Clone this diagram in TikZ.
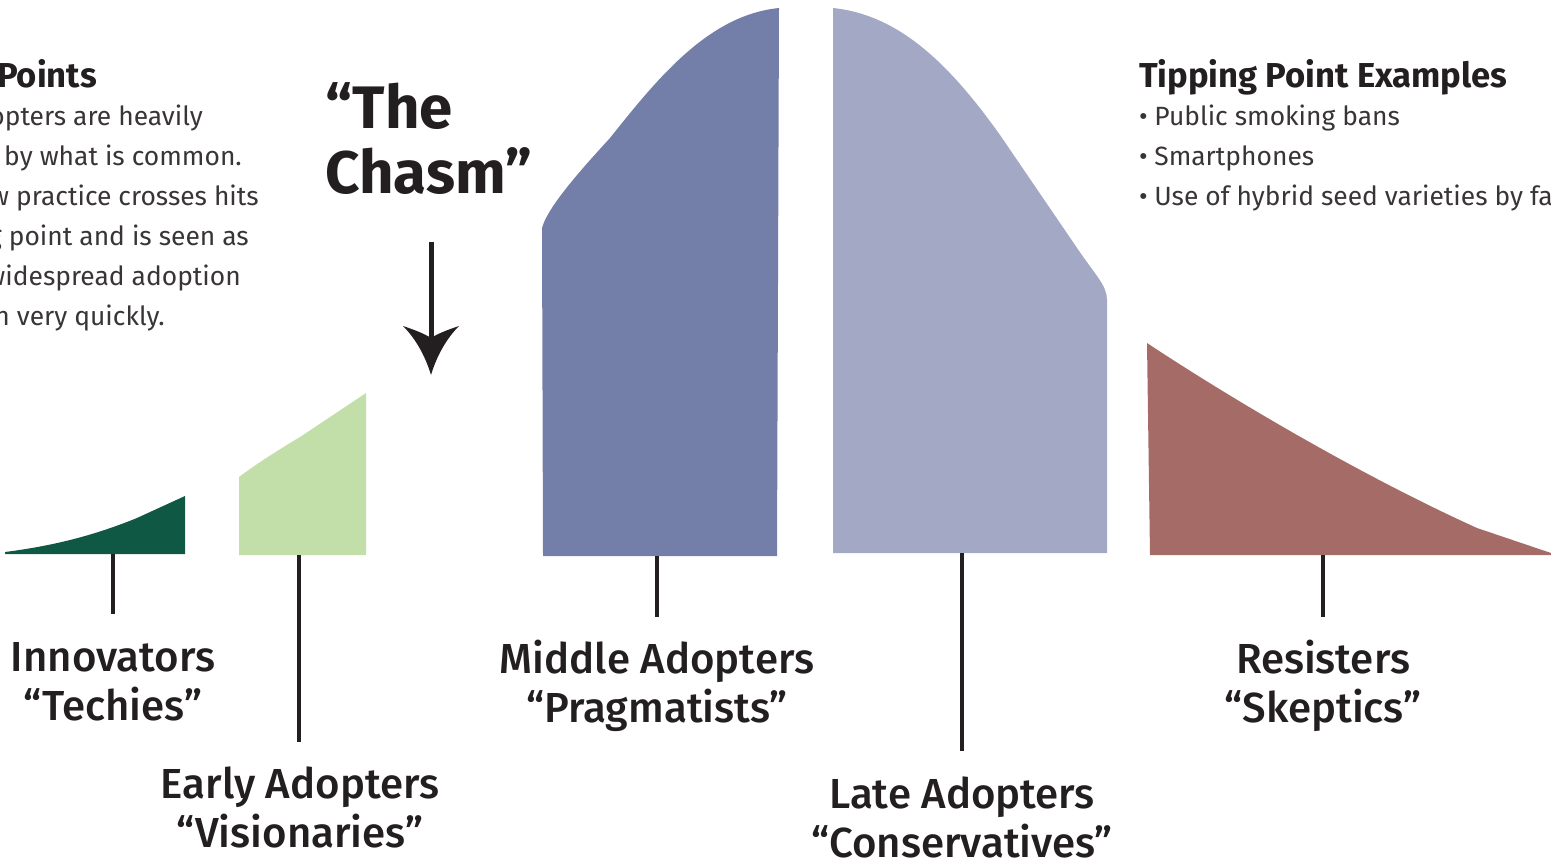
\documentclass[tikz,border=0pt]{standalone}
\usepackage{fontspec}
\setmainfont{Fira Sans}
\IfFontExistsTF{Fira Sans Medium}{\newfontfamily\labfont{Fira Sans Medium}}{\newcommand\labfont{\bfseries}}
\definecolor{inkc}{HTML}{231F20}
\definecolor{innc}{HTML}{0F5843}
\definecolor{earc}{HTML}{C2DEA9}
\definecolor{midc}{HTML}{737FA8}
\definecolor{latc}{HTML}{A3A8C5}
\definecolor{resc}{HTML}{A56B67}
\tikzset{
  tick/.style={draw=inkc, line width=4pt},
  lab/.style={font=\labfont\fontsize{42}{49}\selectfont, text=inkc, align=center, inner sep=0pt, anchor=base},
  body/.style={font=\fontsize{26.4}{40}\selectfont, text=inkc!90, inner sep=0pt},
  head/.style={font=\bfseries\fontsize{34.6}{40}\selectfont, text=inkc, inner sep=0pt},
  chasm/.style={font=\bfseries\fontsize{60}{65}\selectfont, text=inkc, inner sep=0pt, anchor=base west},
}
\begin{document}
\begin{tikzpicture}[x=1pt,y=-1pt]
\useasboundingbox (0,0) rectangle (1551,863);
\clip (0,0) rectangle (1551,863);

% curve segments
\fill[innc] (5,552) .. controls (60,545) and (100,533) .. (137,518) -- (185,496) -- (185,554) -- (5,554) -- cycle;
\fill[earc] (239,555) -- (239,477) .. controls (255,465) and (275,452) .. (300,437) -- (366,393) -- (366,555) -- cycle;
\fill[midc] (543,556) -- (542,228) .. controls (548,205) and (590,160) .. (610,138) .. controls (660,75) and (710,15) .. (779,8) -- (777,556) -- cycle;
\fill[latc] (833,553) -- (833,8) .. controls (900,15) and (950,65) .. (1000,135) -- (1075,245) .. controls (1095,275) and (1107,285) .. (1107,300) -- (1107,553) -- cycle;
\fill[resc] (1147,343) .. controls (1230,398) and (1360,475) .. (1477,528) -- (1551,553) -- (1551,555) -- (1150,555) -- cycle;

% labels (anchor base = baseline of last line)
\node[lab] (inn) at (113,720) {Innovators\\“Techies”};
\node[lab] (ear) at (300,847) {Early Adopters\\“Visionaries”};
\node[lab] (mid) at (657,722) {Middle Adopters\\“Pragmatists”};
\node[lab] (lat) at (962,857) {Late Adopters\\“Conservatives”};
\node[lab] (res) at (1323,722) {Resisters\\“Skeptics”};

% tick coordinates
\coordinate (innT) at (113,554); \coordinate (innB) at (113,614);
\coordinate (earT) at (299,555); \coordinate (earB) at (299,742);
\coordinate (midT) at (657,556); \coordinate (midB) at (657,617);
\coordinate (latT) at (962,553); \coordinate (latB) at (962,751);
\coordinate (resT) at (1323,555); \coordinate (resB) at (1323,617);
\draw[tick] (innT) -- (innB);
\draw[tick] (earT) -- (earB);
\draw[tick] (midT) -- (midB);
\draw[tick] (latT) -- (latB);
\draw[tick] (resT) -- (resB);

% chasm
\node[chasm] (ch1) at (325,128) {“The};
\node[chasm] (ch2) at (325,193) {Chasm”};
\coordinate (arT) at (431,242);
\coordinate (arH) at (431,340);
\draw[inkc, line width=5pt] (arT) -- (arH);
\fill[inkc] (431,375) .. controls (425,355) and (415,338) .. (403,326) .. controls (415,330) and (425,334) .. (431,338)
  .. controls (437,334) and (447,330) .. (459,326) .. controls (447,338) and (437,355) .. (431,375) -- cycle;

% left text block (cropped)
\node[head, anchor=base east] (lt) at (97,87) {Points};
\node[body, anchor=base east] (l1) at (203,125) {opters are heavily};
\node[body, anchor=base east] (l2) at (242,165) {d by what is common.};
\node[body, anchor=base east] (l3) at (259,205) {w practice crosses hits};
\node[body, anchor=base east] (l4) at (249,245) {g point and is seen as};
\node[body, anchor=base east] (l5) at (241,285) {widespread adoption};
\node[body, anchor=base east] (l6) at (165,325) {n very quickly.};

% right text block
\node[head, anchor=base west] (rt) at (1139,87) {Tipping Point Examples};
\node[body, anchor=base west] (r1) at (1139,125) {•\hspace{0.25em}Public smoking bans};
\node[body, anchor=base west] (r2) at (1139,165) {•\hspace{0.25em}Smartphones};
\node[body, anchor=base west] (r3) at (1139,205) {•\hspace{0.25em}Use of hybrid seed varieties by farmers};
\end{tikzpicture}
\end{document}
